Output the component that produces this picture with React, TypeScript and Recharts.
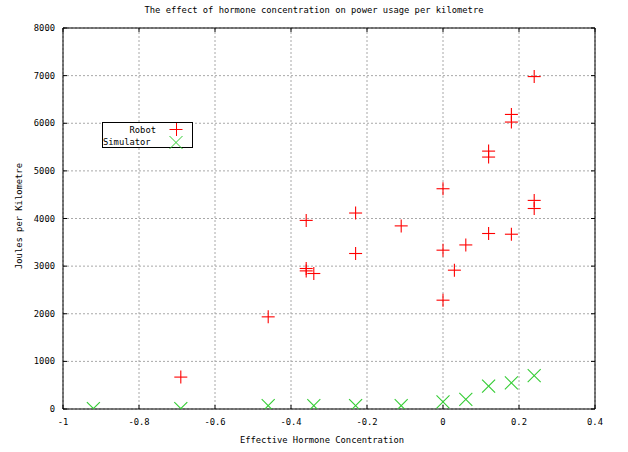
import React from 'react';
import { ScatterChart, Scatter, XAxis, YAxis, CartesianGrid, ReferenceArea } from 'recharts';

// Robot measurements
const robotX = [-0.69, -0.46, -0.36, -0.36, -0.36, -0.34, -0.23, -0.23, -0.11, 0, 0, 0, 0.03, 0.06, 0.12, 0.12, 0.12, 0.18, 0.18, 0.18, 0.24, 0.24, 0.24];
const robotY = [670, 1935, 3960, 2950, 2900, 2845, 4115, 3265, 3845, 4625, 3335, 2285, 2915, 3445, 5415, 5290, 3685, 6185, 6025, 3670, 6980, 4380, 4210];

// Simulator results
const simX = [-0.92, -0.69, -0.46, -0.34, -0.23, -0.11, 0, 0.06, 0.12, 0.18, 0.24];
const simY = [10, 10, 70, 70, 70, 70, 150, 200, 480, 550, 700];

const xTicks = [-1, -0.8, -0.6, -0.4, -0.2, 0, 0.2, 0.4];
const yTicks = [0, 1000, 2000, 3000, 4000, 5000, 6000, 7000, 8000];

const robot = robotX.map((x, i) => ({ x, y: robotY[i] }));
const simulator = simX.map((x, i) => ({ x, y: simY[i] }));

const W = 628;
const H = 452;
const LEFT = 63;
const RIGHT = 595;
const TOP = 28;
const BOTTOM = 409;
const FONT = '"DejaVu Sans Mono", monospace';
const FS = 8.8;
const RED = '#ff0000';
const GREEN = '#33cc33';
const S = 6.5;

const Plus = (props: any) => {
  const { cx, cy } = props;
  return (
    <g>
      <line x1={cx - S} x2={cx + S} y1={cy} y2={cy} stroke={RED} strokeWidth={1.1} />
      <line x1={cx} x2={cx} y1={cy - S} y2={cy + S} stroke={RED} strokeWidth={1.1} />
    </g>
  );
};

const Cross = (props: any) => {
  const { cx, cy } = props;
  return (
    <g>
      <line x1={cx - S} x2={cx + S} y1={cy - S} y2={cy + S} stroke={GREEN} strokeWidth={1.1} />
      <line x1={cx - S} x2={cx + S} y1={cy + S} y2={cy - S} stroke={GREEN} strokeWidth={1.1} />
    </g>
  );
};

const XTick = (props: any) => {
  const { x, payload } = props;
  return (
    <g>
      <line x1={x} x2={x} y1={BOTTOM} y2={BOTTOM - 4} stroke="#000" />
      <line x1={x} x2={x} y1={TOP} y2={TOP + 4} stroke="#000" />
      <text x={x} y={BOTTOM + 16} textAnchor="middle" fontSize={FS} fontFamily={FONT} fill="#000">
        {payload.value}
      </text>
    </g>
  );
};

const YTick = (props: any) => {
  const { y, payload } = props;
  return (
    <g>
      <line x1={LEFT} x2={LEFT + 4} y1={y} y2={y} stroke="#000" />
      <line x1={RIGHT} x2={RIGHT - 4} y1={y} y2={y} stroke="#000" />
      <text x={LEFT - 8} y={y + 3} textAnchor="end" fontSize={FS} fontFamily={FONT} fill="#000">
        {payload.value}
      </text>
    </g>
  );
};

export default function App() {
  return (
    <div style={{ position: 'absolute', left: 0, top: 0, width: W, height: H, background: '#fff', fontFamily: FONT, fontSize: FS }}>
      <ScatterChart width={W} height={H} margin={{ top: TOP, right: W - RIGHT, bottom: 0, left: 0 }}>
        <CartesianGrid stroke="#a8a8a8" strokeDasharray="2 2" />
        <XAxis
          type="number"
          dataKey="x"
          domain={[-1, 0.4]}
          ticks={xTicks}
          height={H - BOTTOM}
          axisLine={false}
          tickLine={false}
          tick={<XTick />}
          allowDataOverflow
        />
        <YAxis
          type="number"
          dataKey="y"
          domain={[0, 8000]}
          ticks={yTicks}
          width={LEFT}
          axisLine={false}
          tickLine={false}
          tick={<YTick />}
          allowDataOverflow
        />
        <ReferenceArea x1={-1} x2={0.4} y1={0} y2={8000} fill="none" stroke="#000" strokeWidth={1} ifOverflow="visible" />
        <Scatter name="Robot" data={robot} shape={<Plus />} isAnimationActive={false} />
        <Scatter name="Simulator" data={simulator} shape={<Cross />} isAnimationActive={false} />
      </ScatterChart>

      <div style={{ position: 'absolute', left: 0, top: 4, width: W, textAlign: 'center', lineHeight: '12px' }}>
        The effect of hormone concentration on power usage per kilometre
      </div>
      <div style={{ position: 'absolute', left: 222, top: 434, width: 200, textAlign: 'center', lineHeight: '12px', whiteSpace: 'nowrap' }}>
        Effective Hormone Concentration
      </div>
      <div
        style={{
          position: 'absolute',
          left: 19,
          top: 216,
          transform: 'translate(-50%, -50%) rotate(-90deg)',
          whiteSpace: 'nowrap',
          lineHeight: '12px',
        }}
      >
        Joules per Kilometre
      </div>

      <div style={{ position: 'absolute', left: 102, top: 122, width: 89, height: 24, border: '1px solid #000', background: '#fff' }}>
        <div style={{ position: 'absolute', right: 36, top: 1, lineHeight: '12px' }}>Robot</div>
        <div style={{ position: 'absolute', left: 0, top: 13, lineHeight: '12px' }}>Simulator</div>
        <svg style={{ position: 'absolute', left: 63, top: 0 }} width={20} height={26}>
          <line x1={3.5} x2={16.5} y1={6.5} y2={6.5} stroke={RED} />
          <line x1={10.5} x2={10.5} y1={0} y2={13} stroke={RED} />
          <line x1={3.5} x2={16.5} y1={13} y2={26} stroke={GREEN} />
          <line x1={3.5} x2={16.5} y1={26} y2={13} stroke={GREEN} />
        </svg>
      </div>
    </div>
  );
}
